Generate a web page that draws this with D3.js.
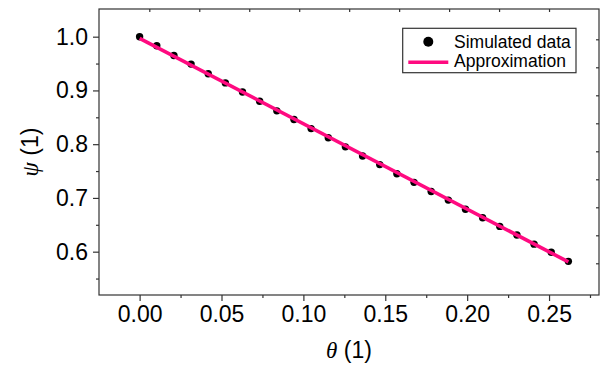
<!DOCTYPE html>
<html><head><meta charset="utf-8">
<script src="https://cdn.jsdelivr.net/npm/d3@7"></script>
<style>body{margin:0;background:#fff}svg{display:block}</style>
</head><body><svg id="c" width="603" height="365"></svg>
<script>
const thetaStep = 0.010472;
const simTheta = d3.range(26).map(i => +(i * thetaStep).toFixed(5));
const simPsi = [1.000, 0.983, 0.965, 0.949, 0.931, 0.914, 0.897, 0.880, 0.862, 0.846,
  0.829, 0.812, 0.795, 0.778, 0.762, 0.745, 0.729, 0.712, 0.696, 0.679,
  0.663, 0.647, 0.631, 0.614, 0.599, 0.582];
const approxTheta = [0, 0.2618];
const approxPsi = [0.997, 0.581];
const xTicks = [0, 0.05, 0.10, 0.15, 0.20, 0.25];
const xMinor = [0.025, 0.075, 0.125, 0.175, 0.225, 0.275];
const yTicks = [0.6, 0.7, 0.8, 0.9, 1.0];
const yMinor = [0.55, 0.65, 0.75, 0.85, 0.95];
const legendLabels = ["Simulated data", "Approximation"];

const L = 99, R = 599, T = 9, B = 295;
const svg = d3.select("#c");
const x = d3.scaleLinear().domain([-0.0248, 0.2805]).range([L, R]);
const y = d3.scaleLinear().domain([0.5194, 1.0515]).range([B, T]);
const font = "'Liberation Sans', Arial, sans-serif";
const axisCol = "#333";

// frame
svg.append("rect").attr("x", L).attr("y", T).attr("width", R - L).attr("height", B - T)
  .attr("fill", "none").attr("stroke", axisCol).attr("stroke-width", 1.2);

// bottom axis
svg.append("g").attr("transform", `translate(0,${B})`)
  .call(d3.axisBottom(x).tickValues(xTicks).tickFormat(d3.format(".2f")).tickSize(6).tickPadding(5));
svg.append("g").attr("transform", `translate(0,${B})`)
  .call(d3.axisBottom(x).tickValues(xMinor).tickFormat("").tickSize(3));
// left axis
svg.append("g").attr("transform", `translate(${L},0)`)
  .call(d3.axisLeft(y).tickValues(yTicks).tickFormat(d3.format(".1f")).tickSize(6).tickPadding(5));
svg.append("g").attr("transform", `translate(${L},0)`)
  .call(d3.axisLeft(y).tickValues(yMinor.filter(v => v > 0.52)).tickFormat("").tickSize(3));
// top & right inner ticks (secondary layer)
const xTop = d3.scaleLinear().domain([0, 9]).range([149.3, 599]);
svg.append("g").attr("transform", `translate(0,${T})`)
  .call(d3.axisBottom(xTop).tickValues(d3.range(0, 9)).tickFormat("").tickSize(3));
const yRight = d3.scaleLinear().domain([0, 8]).range([39.3, 263.3]);
svg.append("g").attr("transform", `translate(${R},0)`)
  .call(d3.axisLeft(yRight).tickValues(d3.range(0, 9)).tickFormat("").tickSize(3));

svg.selectAll(".domain").remove();
svg.selectAll(".tick line").attr("stroke", axisCol).attr("stroke-width", 1.2);
svg.selectAll(".tick text").attr("font-family", font).attr("font-size", 23).attr("fill", "#000");

const line = d3.line().x((d, i) => x(approxTheta[i])).y(d => y(d));

// simulated points
svg.append("g").selectAll("circle").data(simPsi).join("circle")
  .attr("cx", (d, i) => x(simTheta[i])).attr("cy", d => y(d)).attr("r", 3.7).attr("fill", "#000");
// approximation line on top
svg.append("path").datum(approxPsi).attr("d", line)
  .attr("fill", "none").attr("stroke", "#ff0a80").attr("stroke-width", 3.6);

// axis titles
const xt = svg.append("text").attr("x", (L + R) / 2).attr("y", 358).attr("text-anchor", "middle")
  .attr("font-family", font).attr("font-size", 23);
xt.append("tspan").attr("font-family", "'Liberation Serif', 'Times New Roman', serif").attr("font-style", "italic").text("θ");
xt.append("tspan").text(" (1)");
const yt = svg.append("text").attr("transform", `translate(38,${(T + B) / 2}) rotate(-90)`).attr("text-anchor", "middle")
  .attr("font-family", font).attr("font-size", 23);
yt.append("tspan").attr("font-family", "'Liberation Serif', 'Times New Roman', serif").attr("font-style", "italic").text("ψ");
yt.append("tspan").text(" (1)");

// legend
const lg = svg.append("g");
lg.append("rect").attr("x", 402.7).attr("y", 28.3).attr("width", 173.3).attr("height", 44.4)
  .attr("fill", "#fff").attr("stroke", axisCol).attr("stroke-width", 1.2);
lg.append("circle").attr("cx", 428.3).attr("cy", 41.7).attr("r", 5).attr("fill", "#000");
lg.append("line").attr("x1", 408.3).attr("x2", 448.3).attr("y1", 62.3).attr("y2", 62.3)
  .attr("stroke", "#ff0a80").attr("stroke-width", 3.6);
lg.selectAll("text").data(legendLabels).join("text")
  .attr("x", 454).attr("y", (d, i) => 47.5 + i * 19.5)
  .attr("font-family", font).attr("font-size", 17.5).text(d => d);
</script></body></html>
